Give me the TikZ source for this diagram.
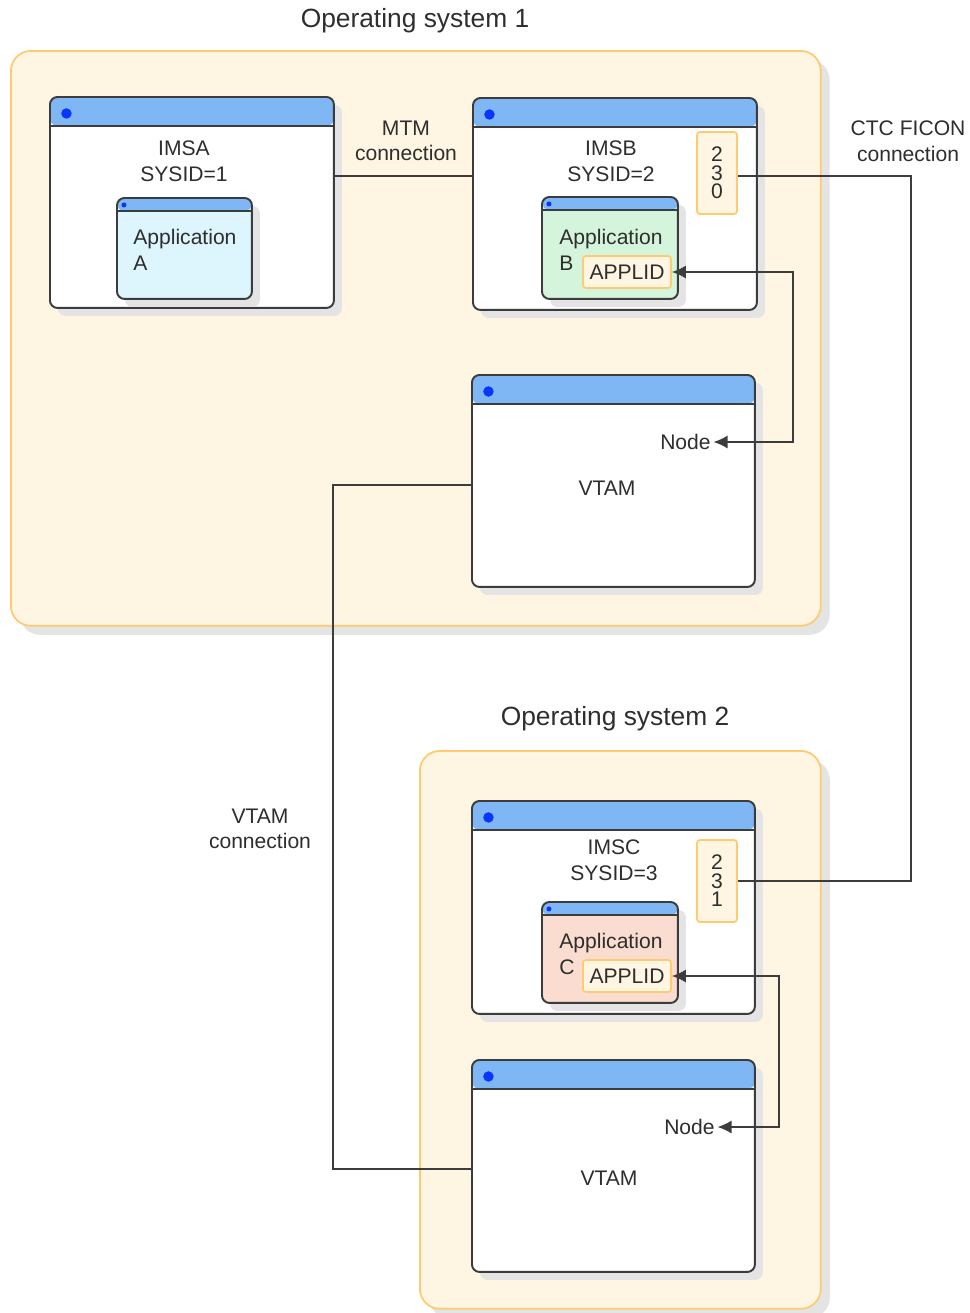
\documentclass[tikz,border=0pt]{standalone}
\usepackage{fontspec}
\setmainfont{Liberation Sans}
\usepackage{xcolor}
\usetikzlibrary{arrows.meta,positioning,calc,shadows}
\definecolor{OSFill}{HTML}{FFF5E3}
\definecolor{OSLine}{HTML}{FFCB70}
\definecolor{HeadBlue}{HTML}{7FB7F5}
\definecolor{DotBlue}{HTML}{0836FF}
\definecolor{WinLine}{HTML}{3C3C3C}
\definecolor{ShadowGray}{HTML}{E4E4E4}
\definecolor{AppCyan}{HTML}{DDF5FC}
\definecolor{AppGreen}{HTML}{D5F4DC}
\definecolor{AppSalmon}{HTML}{FADCD0}
\definecolor{InkGray}{HTML}{2E2E2E}

\begin{document}
\begin{tikzpicture}[
  x=0.02cm, y=-0.02cm,
  every node/.style={text=InkGray},
  osbox/.style={rounded corners=4mm,draw=OSLine,line width=1pt,fill=OSFill,
                anchor=north west,inner sep=0pt,
                drop shadow={shadow xshift=1.8mm,shadow yshift=-1.8mm,fill=ShadowGray,opacity=1}},
  win/.style n args={3}{rounded corners=1.5mm,draw=WinLine,line width=1.1pt,
                anchor=north west,inner sep=0pt,
                drop shadow={shadow xshift=1.6mm,shadow yshift=-1.6mm,fill=ShadowGray,opacity=1},
                path picture={
                  \fill[HeadBlue] (path picture bounding box.north west)
                    rectangle ([yshift=-#1]path picture bounding box.north east);
                  \draw[WinLine,line width=1.1pt] ([yshift=-#1]path picture bounding box.north west)
                    -- ([yshift=-#1]path picture bounding box.north east);
                  \fill[DotBlue] ([xshift=#2,yshift=-#2]path picture bounding box.north west) circle (#3);
                }},
  bigwin/.style={win={5.8mm}{3.3mm}{1.05mm},fill=white},
  appwin/.style={win={2.6mm}{1.4mm}{0.5mm}},
  port/.style={draw=OSLine,line width=1pt,fill=OSFill,rounded corners=0.6mm,inner sep=0pt,
               align=center,font=\fontsize{12}{10.5}\selectfont},
  txt/.style={align=center,inner sep=0pt,font=\fontsize{12}{14.5}\selectfont},
  title/.style={inner sep=0pt,font=\fontsize{15}{18}\selectfont},
  conn/.style={draw=WinLine,line width=0.9pt},
  arr/.style={conn,{Latex[length=2.8mm,width=2.6mm]}-{Latex[length=2.8mm,width=2.6mm]}}
]
\useasboundingbox (0,0) rectangle (970,1313);

% operating systems
\node[title] (os1title) at (415,21) {Operating system 1};
\node[osbox,minimum width=16.2cm,minimum height=11.5cm] (os1) at (10,50) {};
\node[title] (os2title) at (615,719) {Operating system 2};
\node[osbox,minimum width=8.02cm,minimum height=11.16cm] (os2) at (419,750) {};

% IMSA
\node[bigwin,minimum width=5.68cm,minimum height=4.22cm] (imsa) at (49,96) {};
\node[txt] (imsatxt) at (184,161) {IMSA\\SYSID=1};
\node[appwin,fill=AppCyan,minimum width=2.7cm,minimum height=2.02cm] (appa) at (116,197) {};
\node[txt,align=left,anchor=west] (appatxt) at (133,250) {Application\\A};

% IMSB
\node[bigwin,minimum width=5.68cm,minimum height=4.24cm] (imsb) at (472,97) {};
\node[txt] (imsbtxt) at (611,161) {IMSB\\SYSID=2};
\node[port,minimum width=0.8cm,minimum height=1.64cm] (port230) at (717,173) {2\\3\\0};
\node[appwin,fill=AppGreen,minimum width=2.72cm,minimum height=2.04cm] (appb) at (541,196) {};
\node[txt,align=left,anchor=west] (appbtxt) at (559,250) {Application\\B};
\node[port,font=\fontsize{12}{14}\selectfont,minimum width=1.76cm,minimum height=0.64cm] (applidb) at (627,272) {APPLID};

% VTAM, system 1
\node[bigwin,minimum width=5.66cm,minimum height=4.24cm] (vtam1) at (471,374) {};
\node[txt,anchor=east] (node1) at (711,442) {Node};
\node[txt] (vtam1txt) at (607,488) {VTAM};

% IMSC
\node[bigwin,minimum width=5.66cm,minimum height=4.26cm] (imsc) at (471,800) {};
\node[txt] (imsctxt) at (614,860) {IMSC\\SYSID=3};
\node[port,minimum width=0.8cm,minimum height=1.64cm] (port231) at (717,881) {2\\3\\1};
\node[appwin,fill=AppSalmon,minimum width=2.72cm,minimum height=2.02cm] (appc) at (541,901) {};
\node[txt,align=left,anchor=west] (appctxt) at (559,954) {Application\\C};
\node[port,font=\fontsize{12}{14}\selectfont,minimum width=1.76cm,minimum height=0.64cm] (applidc) at (627,976) {APPLID};

% VTAM, system 2
\node[bigwin,minimum width=5.66cm,minimum height=4.24cm] (vtam2) at (471,1059) {};
\node[txt,anchor=east] (node2) at (715,1127) {Node};
\node[txt] (vtam2txt) at (609,1178) {VTAM};

% connection labels
\node[txt] (mtmlbl) at (406,141) {MTM\\connection};
\node[txt] (ctclbl) at (908,141) {CTC FICON\\connection};
\node[txt] (vtamlbl) at (260,829) {VTAM\\connection};

% connectors
\draw[conn] ([yshift=-0.06cm]imsa.east |- port230.east) -- ([yshift=-0.06cm]imsb.west |- port230.east);
\draw[conn] ([yshift=-0.06cm]port230.east) -- ++(173,0) |- (port231.east);
\draw[conn] ([yshift=-0.08cm]vtam1.west) -- ++(-138,0) |- ([yshift=-0.06cm]vtam2.west);
\draw[arr] (applidb.east) -- ++(121,0) |- ([xshift=0.5mm]node1.east);
\draw[arr] (applidc.east) -- ++(107,0) |- ([xshift=0.5mm]node2.east);
\end{tikzpicture}
\end{document}
